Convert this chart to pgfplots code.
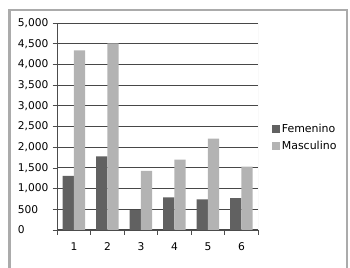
\documentclass[border=0pt]{standalone}
\usepackage{pgfplots}
\pgfplotsset{compat=1.18}
\usepackage{fontspec}
\setmainfont{DejaVu Sans}
\definecolor{fem}{HTML}{616161}
\definecolor{mas}{HTML}{B3B3B3}
\definecolor{frame}{HTML}{ABABAB}
\begin{document}
\begin{tikzpicture}[x=1bp,y=1bp]
\useasboundingbox (0,0) rectangle (350,268);
\draw[line width=2bp, color=frame] (9.5,-5) -- (9.5,258) -- (346.5,258) -- (346.5,-5);
\begin{axis}[
  at={(57.2bp,38bp)}, anchor=south west,
  scale only axis, width=201bp, height=207bp,
  xmin=0.5, xmax=6.5, ymin=0, ymax=5000,
  ybar=0pt, bar width=11.2bp,
  xtick={0.5,1.5,...,6.5}, x tick label as interval,
  xticklabels={1,2,3,4,5,6},
  ytick={0,500,...,5000},
  /pgf/number format/1000 sep={,},
  /pgf/number format/assume math mode=true,
  tick align=outside, major tick length=4.5bp,
  tick style={black!70, line width=0.8bp},
  axis x line*=bottom, axis y line*=left,
  axis line style={black!70, line width=0.8bp},
  ymajorgrids, grid style={black!72, line width=1bp},
  every tick label/.append style={font=\fontsize{10.7}{13}\selectfont},
  yticklabel style={anchor=west, inner sep=0pt, xshift=-35bp},
  xticklabel style={yshift=-4.5bp},
  legend style={at={(1.067,0.446)}, anchor=west, draw=none, fill=none,
    font=\fontsize{11}{13}\selectfont, row sep=3bp, inner sep=0pt},
  legend cell align=left,
  area legend,
  legend image code/.code={\fill[#1] (0bp,-4bp) rectangle (8bp,4bp);},
]
\addplot[fill=fem, draw=none] coordinates {(1,1310) (2,1780) (3,480) (4,790) (5,740) (6,770)};
\addplot[fill=mas, draw=none] coordinates {(1,4340) (2,4510) (3,1430) (4,1700) (5,2210) (6,1530)};
\draw[black!20, line width=0.6bp] (rel axis cs:1,0) -- (rel axis cs:1,1);
\legend{Femenino, Masculino}
\end{axis}
\end{tikzpicture}
\end{document}
